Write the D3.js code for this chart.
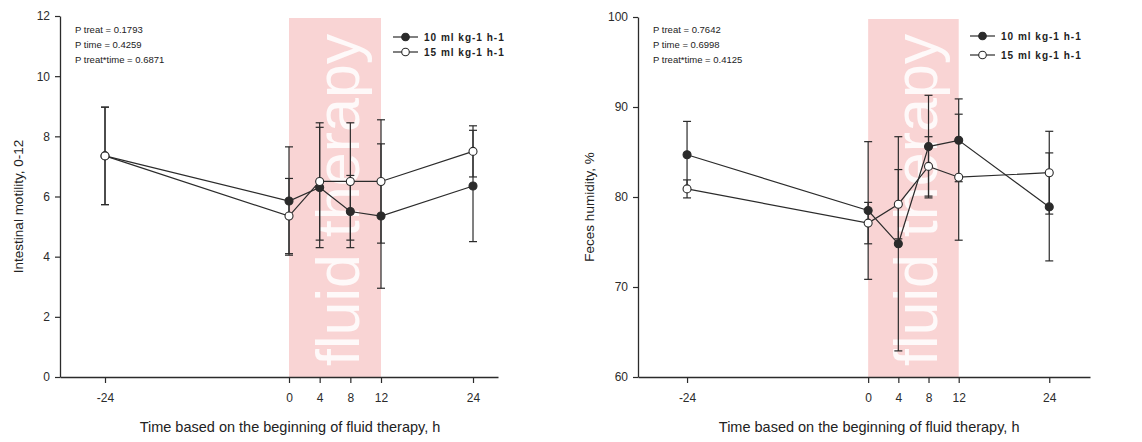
<!DOCTYPE html>
<html>
<head>
<meta charset="utf-8">
<script src="https://cdn.jsdelivr.net/npm/d3@7"></script>
<style>
  body { margin: 0; background: #fff; }
  text { font-family: "Liberation Sans", Arial, sans-serif; fill: #222; }
</style>
</head>
<body>
<div id="chart"></div>
<script>
// sampling times (h, relative to start of fluid therapy)
var hours = [-24, 0, 4, 8, 12, 24];
var therapyWindow = [0, 12];
var seriesLabels = ["10 ml kg-1 h-1", "15 ml kg-1 h-1"];

// intestinal motility score
var motility10 = [7.35, 5.85, 6.3, 5.5, 5.35, 6.35];
var motility10Err = [1.62, 1.8, 2.0, 1.2, 2.4, 1.85];
var motility15 = [7.35, 5.35, 6.5, 6.5, 6.5, 7.5];
var motility15Err = [1.62, 1.25, 1.95, 1.95, 2.05, 0.85];
var motilityTicks = [0, 2, 4, 6, 8, 10, 12];
var motilityStats = ["P treat = 0.1793", "P time = 0.4259", "P treat*time = 0.6871"];

// feces humidity %
var humidity10 = [84.7, 78.5, 74.8, 85.6, 86.3, 78.9];
var humidity10Err = [3.7, 7.65, 11.9, 5.7, 4.6, 6.0];
var humidity15 = [80.9, 77.1, 79.2, 83.4, 82.2, 82.7];
var humidity15Err = [1.0, 2.3, 3.85, 3.3, 7.0, 4.6];
var humidityTicks = [60, 70, 80, 90, 100];
var humidityStats = ["P treat = 0.7642", "P time = 0.6998", "P treat*time = 0.4125"];

var svgWidth = 1142;
var svgHeight = 442;

var svg = d3.select("#chart")
  .append("svg")
  .attr("width", svgWidth)
  .attr("height", svgHeight);

var ink = "#2b2b2b";

function drawPanel(p) {
  var x = d3.scaleLinear().domain(p.xDomain).range([p.left, p.right]);
  var y = d3.scaleLinear().domain(p.yDomain).range([p.bottom, p.top]);
  var g = svg.append("g");

  // shaded therapy window
  g.append("rect")
    .attr("x", x(therapyWindow[0]))
    .attr("y", p.top + 2)
    .attr("width", x(therapyWindow[1]) - x(therapyWindow[0]))
    .attr("height", p.bottom - p.top - 2)
    .attr("fill", "#f9d4d4");

  g.append("text")
    .attr("transform", `translate(${x(therapyWindow[1]) - 22}, ${p.bottom - 11}) rotate(-90)`)
    .attr("font-family", "'Open Sans', sans-serif")
    .attr("font-size", "61px")
    .style("fill", "#fff")
    .style("fill-opacity", 0.85)
    .text("fluid therapy");

  // axes
  var xAxis = g.append("g")
    .attr("transform", `translate(0, ${p.bottom})`)
    .call(d3.axisBottom(x).tickValues(hours).tickFormat(d => String(d))
      .tickSize(6).tickPadding(10).tickSizeOuter(0));
  var yAxis = g.append("g")
    .attr("transform", `translate(${p.left}, 0)`)
    .call(d3.axisLeft(y).tickValues(p.ticks).tickFormat(d => String(d))
      .tickSize(5).tickPadding(5).tickSizeOuter(0));
  [xAxis, yAxis].forEach(a => {
    a.select(".domain").attr("stroke", ink).attr("stroke-width", 1.3);
    a.selectAll(".tick line").attr("stroke", ink).attr("stroke-width", 1.2);
    a.selectAll(".tick text").style("font-size", "12px").style("fill", ink)
      .attr("font-family", null);
  });

  // axis labels
  g.append("text")
    .attr("transform", `translate(${p.yLabelX}, ${(p.top + p.bottom) / 2 + 10}) rotate(-90)`)
    .style("text-anchor", "middle")
    .style("font-size", "13.5px")
    .text(p.yLabel);

  g.append("text")
    .attr("x", x(0) + 1)
    .attr("y", 432)
    .style("text-anchor", "middle")
    .style("font-size", "14.5px")
    .text("Time based on the beginning of fluid therapy, h");

  // p-values
  g.selectAll(null)
    .data(p.stats)
    .enter()
    .append("text")
    .attr("x", p.left + 15)
    .attr("y", (d, i) => 33 + i * 15)
    .style("font-size", "9.5px")
    .text(d => d);

  // series
  var series = [
    { values: p.s10, err: p.e10, fill: ink },
    { values: p.s15, err: p.e15, fill: "#fff" }
  ];

  series.forEach(s => {
    var pts = hours.map((h, i) => ({ h: h, v: s.values[i], e: s.err[i] }));
    var eb = g.append("g").attr("stroke", ink).attr("stroke-width", 1.2);
    eb.selectAll(".stem").data(pts).enter().append("line")
      .attr("x1", d => x(d.h)).attr("x2", d => x(d.h))
      .attr("y1", d => y(d.v - d.e)).attr("y2", d => y(d.v + d.e));
    eb.selectAll(".capTop").data(pts).enter().append("line")
      .attr("x1", d => x(d.h) - 4).attr("x2", d => x(d.h) + 4)
      .attr("y1", d => y(d.v + d.e)).attr("y2", d => y(d.v + d.e));
    eb.selectAll(".capBot").data(pts).enter().append("line")
      .attr("x1", d => x(d.h) - 4).attr("x2", d => x(d.h) + 4)
      .attr("y1", d => y(d.v - d.e)).attr("y2", d => y(d.v - d.e));
  });

  series.forEach(s => {
    var pts = hours.map((h, i) => ({ h: h, v: s.values[i] }));
    g.append("path")
      .datum(pts)
      .attr("fill", "none")
      .attr("stroke", ink)
      .attr("stroke-width", 1.2)
      .attr("d", d3.line().x(d => x(d.h)).y(d => y(d.v)));
  });

  series.forEach(s => {
    var pts = hours.map((h, i) => ({ h: h, v: s.values[i] }));
    g.selectAll(null).data(pts).enter().append("circle")
      .attr("cx", d => x(d.h))
      .attr("cy", d => y(d.v))
      .attr("r", 4)
      .attr("fill", s.fill)
      .attr("stroke", ink)
      .attr("stroke-width", 1.1);
  });

  // legend
  series.forEach((s, i) => {
    var ly = p.legendY[i];
    g.append("line")
      .attr("x1", p.legendX).attr("x2", p.legendX + 25)
      .attr("y1", ly).attr("y2", ly)
      .attr("stroke", ink).attr("stroke-width", 1.2);
    g.append("circle")
      .attr("cx", p.legendX + 12.5).attr("cy", ly).attr("r", 3.8)
      .attr("fill", s.fill).attr("stroke", ink).attr("stroke-width", 1.1);
    g.append("text")
      .attr("x", p.legendX + 31)
      .attr("y", ly + 4)
      .style("font-size", "10px")
      .style("font-weight", "bold")
      .style("letter-spacing", "1px")
      .text(seriesLabels[i]);
  });
}

drawPanel({
  left: 60, right: 498, top: 16, bottom: 377,
  xDomain: [-29.87, 27.26], yDomain: [0, 12],
  ticks: motilityTicks, yLabel: "Intestinal motility, 0-12", yLabelX: 23,
  stats: motilityStats,
  s10: motility10, e10: motility10Err, s15: motility15, e15: motility15Err,
  legendX: 393, legendY: [37, 52]
});

drawPanel({
  left: 638, right: 1090, top: 17, bottom: 377,
  xDomain: [-30.5, 29.4], yDomain: [60, 100],
  ticks: humidityTicks, yLabel: "Feces humidity, %", yLabelX: 594,
  stats: humidityStats,
  s10: humidity10, e10: humidity10Err, s15: humidity15, e15: humidity15Err,
  legendX: 970, legendY: [36, 55]
});
</script>
</body>
</html>
